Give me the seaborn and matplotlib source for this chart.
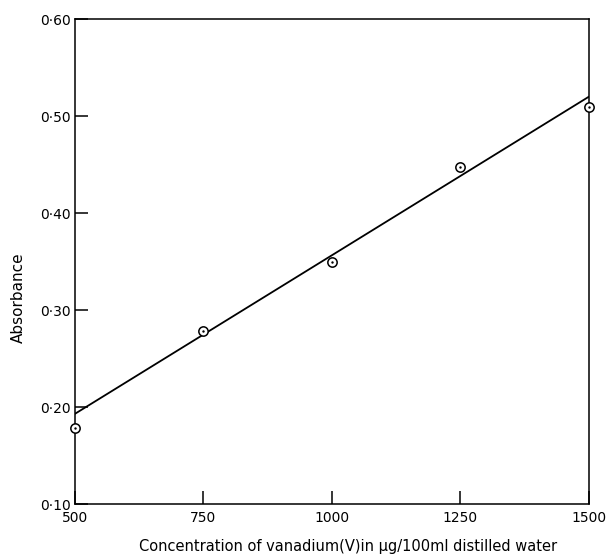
import numpy as np
import pandas as pd
import matplotlib
matplotlib.use("Agg")
import matplotlib.pyplot as plt
import seaborn as sns

# measured points
conc = [500, 750, 1000, 1250, 1500]
absorbance = [0.178, 0.278, 0.350, 0.447, 0.509]

# calibration line as drawn
fit_conc = [500, 1500]
fit_abs = [0.193, 0.520]

x_ticks = [500, 750, 1000, 1250, 1500]
y_ticks = [0.10, 0.20, 0.30, 0.40, 0.50, 0.60]
y_tick_labels = ["0·10", "0·20", "0·30", "0·40", "0·50", "0·60"]

sns.set_style("ticks", {"xtick.direction": "in", "ytick.direction": "in"})
plt.rcParams["font.family"] = ["DejaVu Sans"]

points = pd.DataFrame({"conc": conc, "absorbance": absorbance})
fit = pd.DataFrame({"conc": fit_conc, "absorbance": fit_abs})

fig = plt.figure(figsize=(6.11, 5.56), dpi=100)
ax = fig.add_axes([0.1227, 0.0935, 0.8413, 0.8723])

sns.lineplot(data=fit, x="conc", y="absorbance", ax=ax, color="black", lw=1.3)
sns.scatterplot(data=points, x="conc", y="absorbance", ax=ax, marker="o",
                s=45, facecolor="white", edgecolor="black", linewidth=1.1,
                zorder=3, clip_on=False)
sns.scatterplot(data=points, x="conc", y="absorbance", ax=ax, marker="o",
                s=3, color="black", linewidth=0, zorder=4, clip_on=False)

ax.set_xlim(500, 1500)
ax.set_ylim(0.10, 0.60)
ax.set_xticks(x_ticks)
ax.set_xticklabels([str(t) for t in x_ticks])
ax.set_yticks(y_ticks)
ax.set_yticklabels(y_tick_labels)
ax.tick_params(axis="both", direction="in", length=9.5, width=1.1,
               labelsize=10, colors="black")
ax.tick_params(axis="x", pad=5)
ax.tick_params(axis="y", pad=3)
for s in ax.spines.values():
    s.set_linewidth(1.1)
    s.set_color("black")

ax.set_xlabel("Concentration of vanadium(Ⅴ)in μg/100ml distilled water",
              fontsize=10.5, va="center", color="black")
ax.xaxis.set_label_coords(0.532, -0.088)
ax.set_ylabel("Absorbance", fontsize=11, va="center", color="black")
ax.yaxis.set_label_coords(-0.111, 0.425)

fig.savefig("out.png", dpi=100)
